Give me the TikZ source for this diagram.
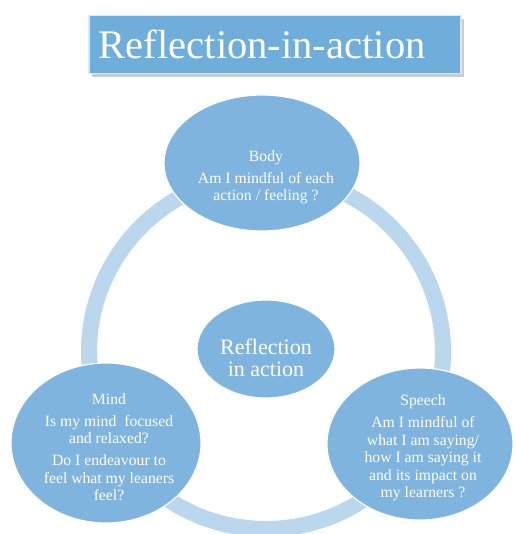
\documentclass[tikz,border=0pt]{standalone}
\usepackage{fontspec}
\setmainfont{Liberation Serif}
\usetikzlibrary{shapes.geometric,shadows}
\definecolor{ovalblue}{RGB}{127,180,222}
\definecolor{ringblue}{RGB}{187,215,238}
\definecolor{titleblue}{RGB}{111,173,219}
\definecolor{titleedge}{RGB}{214,232,246}
\tikzset{
    oval/.style={ellipse, fill=ovalblue, draw=white, line width=1.2pt, inner sep=0pt},
    ovaltext/.style={text=white, align=center, font=\fontsize{15.7}{17.5}\selectfont},
}
\begin{document}
\begin{tikzpicture}[x=1pt, y=-1pt]
        \useasboundingbox (0, 0) rectangle (515, 534);
        % title
        \node[anchor=north west, fill=titleblue, draw=titleedge, line width=1.5pt,
            drop shadow={shadow xshift=3pt, shadow yshift=-3pt, fill=black!40, opacity=0.5},
            minimum height=58pt, inner xsep=10pt, text width=352pt, align=left,
            text=white, font=\fontsize{40.6}{44}\selectfont] (title) at (88, 15) {Reflection-in-action};
        % ring
        \coordinate (hub) at (266, 352);
        \draw[ringblue, line width=16pt] (hub) circle (177);
        % ovals
        \node[oval, minimum width=196pt, minimum height=136pt] (body) at (262, 163) {};
        \node[oval, minimum width=190pt, minimum height=160pt] (mind) at (106, 443) {};
        \node[oval, minimum width=186pt, minimum height=152pt] (speech) at (420, 444) {};
        \node[oval, minimum width=138pt, minimum height=98pt] (centre) at (266, 349) {};
        % texts
        \node[ovaltext] (bodytext) at (266, 177) {Body\\[4.5pt]Am I mindful of each\\action / feeling ?};
        \node[ovaltext] (mindtext) at (109, 447) {Mind\\[4.5pt]Is my mind\ \ focused\\and relaxed?\\[4.5pt]Do I endeavour to\\feel what my leaners\\feel?};
        \node[ovaltext] (speechtext) at (423, 448) {Speech\\[4.5pt]Am I mindful of\\what I am saying/\\how I am saying it\\and its impact on\\my learners ?};
        \node[ovaltext, font=\fontsize{22}{22}\selectfont] (centretext) at (266, 358) {Reflection\\in action};
    \end{tikzpicture}
\end{document}
